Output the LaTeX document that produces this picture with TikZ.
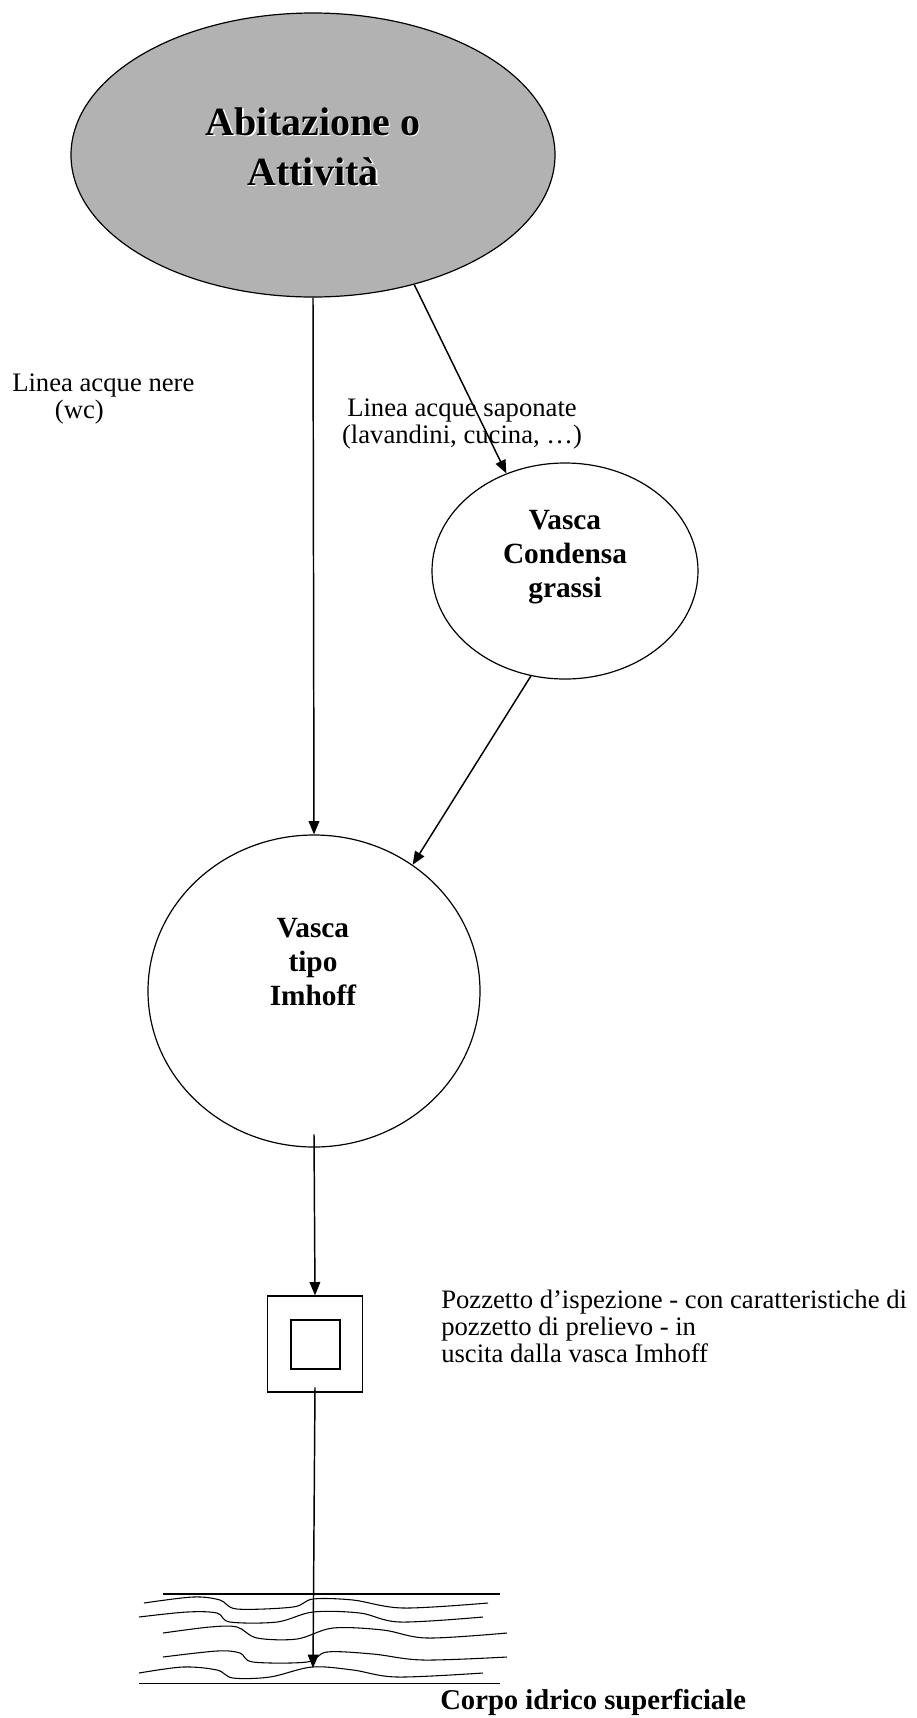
\documentclass[tikz,border=0pt]{standalone}
\usepackage{fontspec}
\setmainfont{Liberation Serif}
\usetikzlibrary{arrows.meta,shapes.geometric}
\begin{document}
\begin{tikzpicture}[x=0.75pt,y=-0.75pt,
 vessel/.style={draw, ellipse, inner sep=0pt, line width=0.9pt},
 conn/.style={line width=1.1pt, -{Triangle[length=10pt,width=8pt]}},
 bigbold/.style={font=\bfseries\fontsize{30}{37.5}\selectfont, align=center, inner sep=0pt},
 boldlabel/.style={font=\bfseries\fontsize{22}{25.5}\selectfont, align=center, inner sep=0pt},
 note/.style={font=\fontsize{20}{20.25}\selectfont, inner sep=0pt},
 wave/.style={line width=0.8pt},
 box/.style={draw, rectangle, inner sep=0pt, line width=1pt}
]
\useasboundingbox (0,0) rectangle (917,1718);

% vessels
\node[vessel, fill=gray!60!white, minimum width=363pt, minimum height=213pt] (top) at (313,155) {};
\node[bigbold, anchor=base, text=white] (topshadow) at (314.5,186.5) {Abitazione o\\Attività};
\node[bigbold, anchor=base] (toptext) at (313,185) {Abitazione o\\Attività};

\node[vessel, minimum width=199.5pt, minimum height=162pt] (cond) at (565,571) {};
\node[boldlabel, anchor=base] (condtext) at (565,597) {Vasca\\Condensa\\grassi};

\node[vessel, minimum width=249pt, minimum height=234pt] (imhoff) at (314,991) {};
\node[boldlabel, anchor=base] (imhofftext) at (313,1005) {Vasca\\tipo\\Imhoff};

% pozzetto
\node[box, minimum width=71.25pt, minimum height=72pt] (pozzo) at (315,1344) {};
\node[box, minimum width=36.75pt, minimum height=36.75pt] (pozzoin) at (315.5,1344.5) {};

\coordinate (inlet) at (313,1668);

% connectors
\draw[conn] (top.south) -- (imhoff.north);
\draw[conn] (top.-52.6) -- (cond.121);
\draw[conn] (cond.-108.6) -- (imhoff.52.3);
\draw[conn] ([yshift=10pt]imhoff.south) -- (pozzo.north);
\draw[conn] ([yshift=4pt]pozzo.south) -- (inlet);

% labels
\node[note, anchor=base west, align=left] (nere) at (12,418) {Linea acque nere\\\hspace*{32pt}(wc)};
\node[note, anchor=base, align=center] (saponate) at (462,443) {Linea acque saponate\\(lavandini, cucina, \ldots)};
\node[note, anchor=base west, align=left] (pozzotext) at (441,1362) {Pozzetto d’ispezione - con caratteristiche di\\pozzetto di prelievo - in\\uscita dalla vasca Imhoff};
\node[font=\bfseries\fontsize{21.5}{24}\selectfont, anchor=base west, inner sep=0pt] (corpo) at (440,1709) {Corpo idrico superficiale};

% water body
\draw[wave] (163,1594) -- (500,1594);
\draw[wave] plot[smooth, tension=0.55] coordinates {(144,1603) (193,1597) (220,1600) (237,1609) (293,1607) (313,1599) (353,1600) (403,1608) (488,1603)};
\draw[wave] plot[smooth, tension=0.55] coordinates {(139,1617) (187,1612) (217,1613) (230,1622) (277,1622) (313,1612) (360,1613) (400,1622) (483,1617)};
\draw[wave] plot[smooth, tension=0.55] coordinates {(163,1633) (210,1627) (237,1627) (257,1638) (297,1639) (333,1628) (383,1630) (427,1638) (507,1633)};
\draw[wave] plot[smooth, tension=0.55] coordinates {(163,1657) (217,1651) (240,1653) (253,1662) (307,1662) (327,1652) (373,1654) (423,1660) (507,1657)};
\draw[wave] plot[smooth, tension=0.55] coordinates {(139,1673) (183,1667) (217,1670) (233,1678) (270,1677) (312,1667) (353,1670) (397,1677) (483,1673)};
\draw[wave, line width=0.6pt] (139,1683) -- (500,1683);
\end{tikzpicture}
\end{document}
